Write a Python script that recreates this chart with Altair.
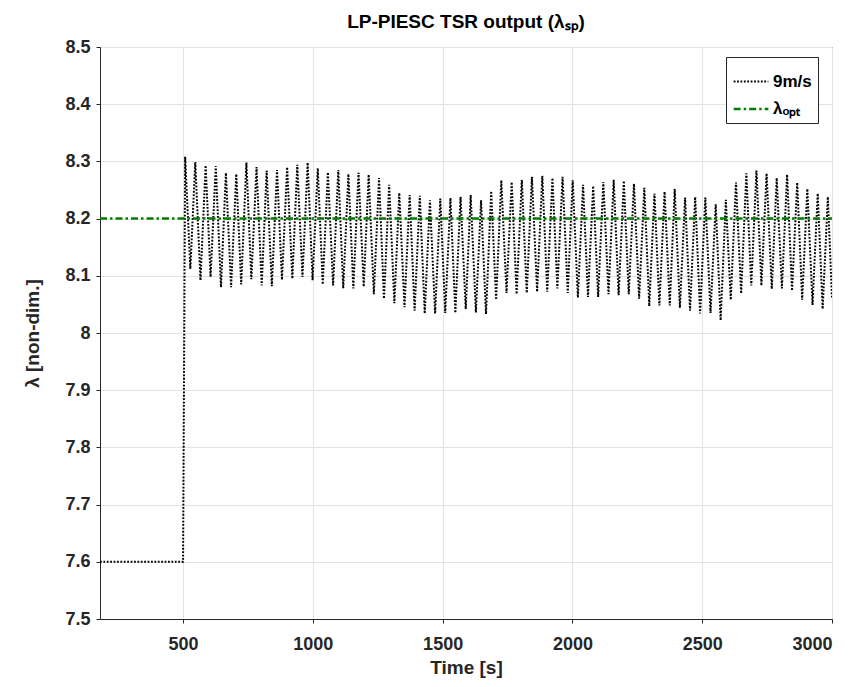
import altair as alt
import pandas as pd

# ---- data ----
pre_time = [180, 500]
pre_value = [7.6, 7.6]

peak_time = [508, 547, 587, 626, 665, 705, 744, 783, 822, 862, 901, 940, 980, 1019,
             1058, 1098, 1137, 1176, 1215, 1255, 1294, 1333, 1373, 1412, 1451, 1491,
             1530, 1569, 1608, 1648, 1687, 1726, 1766, 1805, 1844, 1884, 1923, 1962,
             2001, 2041, 2080, 2119, 2159, 2198, 2237, 2277, 2316, 2355, 2394, 2434,
             2473, 2512, 2552, 2591, 2630, 2670, 2709, 2748, 2787, 2827, 2866, 2905,
             2945, 2984]
peak_value = [8.308, 8.299, 8.293, 8.292, 8.280, 8.278, 8.298, 8.290, 8.284, 8.285,
              8.290, 8.294, 8.298, 8.288, 8.281, 8.285, 8.278, 8.280, 8.277, 8.271,
              8.259, 8.245, 8.241, 8.240, 8.232, 8.235, 8.236, 8.238, 8.241, 8.232,
              8.248, 8.267, 8.264, 8.268, 8.273, 8.275, 8.271, 8.273, 8.267, 8.259,
              8.257, 8.264, 8.268, 8.266, 8.261, 8.254, 8.244, 8.247, 8.252, 8.237,
              8.238, 8.237, 8.225, 8.233, 8.263, 8.279, 8.284, 8.279, 8.271, 8.277,
              8.263, 8.252, 8.244, 8.238]

trough_time = [528, 567, 606, 646, 685, 724, 763, 803, 842, 881, 921, 960, 999, 1038,
               1078, 1117, 1156, 1196, 1235, 1274, 1314, 1353, 1392, 1431, 1471, 1510,
               1549, 1589, 1628, 1667, 1706, 1746, 1785, 1824, 1864, 1903, 1942, 1982,
               2021, 2060, 2099, 2139, 2178, 2217, 2257, 2296, 2335, 2375, 2414, 2453,
               2492, 2532, 2571, 2610, 2650, 2689, 2728, 2768, 2807, 2846, 2885, 2925,
               2964]
trough_value = [8.112, 8.092, 8.098, 8.080, 8.080, 8.085, 8.094, 8.083, 8.082, 8.093,
                8.095, 8.098, 8.092, 8.085, 8.083, 8.078, 8.078, 8.081, 8.068, 8.060,
                8.052, 8.045, 8.039, 8.034, 8.034, 8.035, 8.035, 8.042, 8.036, 8.033,
                8.058, 8.070, 8.068, 8.070, 8.072, 8.072, 8.078, 8.070, 8.062, 8.063,
                8.063, 8.068, 8.066, 8.068, 8.060, 8.047, 8.048, 8.048, 8.044, 8.039,
                8.034, 8.035, 8.022, 8.058, 8.069, 8.083, 8.083, 8.077, 8.078, 8.074,
                8.058, 8.049, 8.042]

end_time = [3000]
end_value = [8.06]

opt_time = [180, 3000]
opt_value = [8.2, 8.2]

series_names = ["9m/s", "λₒₚₜ"]
series_colors = ["#000000", "#008000"]

x_ticks = [500, 1000, 1500, 2000, 2500, 3000]
y_ticks = [7.5, 7.6, 7.7, 7.8, 7.9, 8.0, 8.1, 8.2, 8.3, 8.4, 8.5]

# ---- build tables ----
rows = list(zip(pre_time, pre_value))
for i in range(len(peak_time)):
    rows.append((peak_time[i], peak_value[i]))
    if i < len(trough_time):
        rows.append((trough_time[i], trough_value[i]))
rows += list(zip(end_time, end_value))

df_tsr = pd.DataFrame(rows, columns=["t", "v"])
df_tsr["series"] = series_names[0]
df_tsr["order"] = range(len(df_tsr))
df_opt = pd.DataFrame({"t": opt_time, "v": opt_value})
df_opt["series"] = series_names[1]
df_opt["order"] = range(len(df_opt))

FONT = "Liberation Sans"

leg = alt.Legend(
    title=None, orient="none", legendX=626, legendY=10,
    strokeColor="#262626", fillColor="white", padding=6,
    symbolType="stroke", symbolSize=1200, rowPadding=-2,
    labelFont=FONT, labelFontSize=17, labelFontWeight="bold", labelColor="black",
    labelOffset=3,
)

x_enc = alt.X("t:Q", scale=alt.Scale(domain=[180, 3000], nice=False, zero=False),
              axis=alt.Axis(values=x_ticks, title="Time [s]", format="d"))
y_enc = alt.Y("v:Q", scale=alt.Scale(domain=[7.5, 8.5], nice=False, zero=False),
              axis=alt.Axis(values=y_ticks, title="λ [non-dim.]", format="~g"))
color_enc = alt.Color("series:N", scale=alt.Scale(domain=series_names, range=series_colors), legend=leg)
dash_enc = alt.StrokeDash("series:N", scale=alt.Scale(domain=series_names, range=[[1.8, 1.6], [7, 3, 2.5, 3]]), legend=leg)
width_enc = alt.StrokeWidth("series:N", scale=alt.Scale(domain=series_names, range=[2.0, 2.5]), legend=leg)

line_tsr = alt.Chart(df_tsr).mark_line(clip=True).encode(
    x=x_enc, y=y_enc, color=color_enc, strokeDash=dash_enc, strokeWidth=width_enc,
    order="order:Q")
line_opt = alt.Chart(df_opt).mark_line(clip=True).encode(
    x=x_enc, y=y_enc, color=color_enc, strokeDash=dash_enc, strokeWidth=width_enc,
    order="order:Q")

chart = alt.layer(line_tsr, line_opt).properties(
    width=732, height=572,
    title="LP-PIESC TSR output (λₛₚ)",
    autosize=alt.AutoSizeParams(type="none"),
    padding={"left": 92, "top": 39, "right": 19, "bottom": 67},
).configure_view(
    stroke="#262626", strokeWidth=1
).configure_axis(
    domainColor="#262626", gridColor="#e3e3e3", gridWidth=1, grid=True,
    ticks=True, tickSize=4, tickColor="#262626",
    labelFont=FONT, labelFontSize=18, labelFontWeight="bold", labelColor="#262626",
    titleFont=FONT, titleFontSize=19, titleFontWeight="bold", titleColor="#262626",
).configure_axisX(
    labelPadding=12, titlePadding=5
).configure_axisY(
    labelPadding=6, titlePadding=22
).configure_title(
    font=FONT, fontSize=19, fontWeight="bold", color="black", anchor="middle", offset=6
)

chart.save("out.html", embed_options={"renderer": "svg", "actions": False})
